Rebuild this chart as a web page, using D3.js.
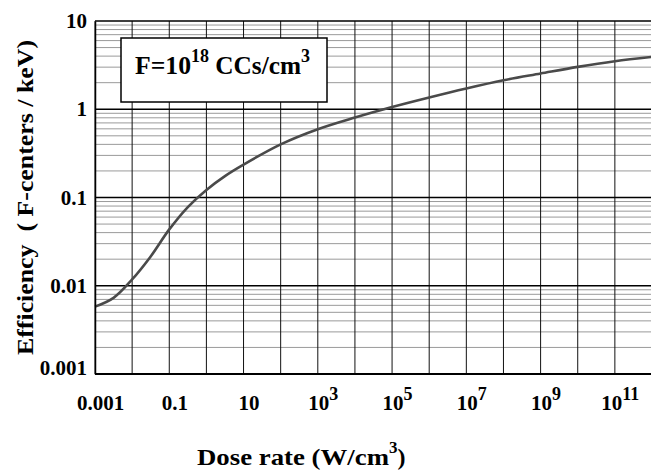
<!DOCTYPE html>
<html>
<head>
<meta charset="utf-8">
<script src="https://cdn.jsdelivr.net/npm/d3@7"></script>
<style>
  body { margin: 0; background: #fff; }
  svg { display: block; }
  text { font-family: "Liberation Serif", "Times New Roman", serif; font-weight: bold; fill: #000; white-space: pre; }
</style>
</head>
<body>
<div id="graph"></div>
<script>
// dose rate (W/cm3) and efficiency (F-centers / keV)
const doseRate = [0.001, 0.00316, 0.01, 0.0316, 0.1, 0.316, 1, 3.16, 10, 100,
  1e3, 1e4, 1e5, 1e6, 1e7, 1e8, 1e9, 1e10, 1e11, 1e12];
const efficiency = [0.0058, 0.0073, 0.0118, 0.0215, 0.0435, 0.078, 0.122, 0.175, 0.236, 0.40,
  0.594, 0.805, 1.06, 1.36, 1.72, 2.13, 2.54, 3.02, 3.5, 3.92];

const xTickValues = [1e-3, 1e-1, 1e1, 1e3, 1e5, 1e7, 1e9, 1e11];
const xTickLabels = ["0.001", "0.1", "10", "10^3", "10^5", "10^7", "10^9", "10^11"];
const yTickValues = [1e-3, 1e-2, 1e-1, 1, 10];
const yTickLabels = ["0.001", "0.01", "0.1", "1", "10"];

const xTitle = "Dose rate (W/cm^3)";
const yTitle = "Efficiency  ( F-centers / keV)";
const noteText = ["F=10", "18", " CCs/cm", "3"];

const width = 651;
const height = 470;
const marginTop = 21;
const marginLeft = 95;
const plotBottom = 374;

const x = d3.scaleLog()
    .domain([1e-3, 1e12])
    .range([marginLeft, 652]);

const y = d3.scaleLog()
    .domain([1e-3, 10])
    .range([plotBottom, marginTop]);

const svg = d3.create("svg")
    .attr("width", width)
    .attr("height", height);

// minor horizontal grid
const minors = [];
yTickValues.slice(0, -1).forEach(d => {
  for (let k = 2; k <= 9; k++) minors.push(d * k);
});
svg.append("g")
  .selectAll("line")
  .data(minors)
  .join("line")
    .attr("x1", marginLeft)
    .attr("x2", width)
    .attr("y1", d => y(d))
    .attr("y2", d => y(d))
    .attr("stroke", "#9a9a9a")
    .attr("stroke-width", 1);

// decade grid lines
const xDecades = d3.range(-3, 13).map(e => Math.pow(10, e));
svg.append("g")
  .selectAll("line")
  .data(xDecades)
  .join("line")
    .attr("x1", d => x(d))
    .attr("x2", d => x(d))
    .attr("y1", marginTop)
    .attr("y2", plotBottom)
    .attr("stroke", "#111")
    .attr("stroke-width", 1);

svg.append("g")
  .selectAll("line")
  .data(yTickValues)
  .join("line")
    .attr("x1", marginLeft)
    .attr("x2", width)
    .attr("y1", d => y(d))
    .attr("y2", d => y(d))
    .attr("stroke", "#000")
    .attr("stroke-width", 1.3);

// bottom border
svg.append("line")
    .attr("x1", marginLeft).attr("x2", width)
    .attr("y1", plotBottom).attr("y2", plotBottom)
    .attr("stroke", "#000").attr("stroke-width", 2);

// curve
const line = d3.line()
    .x(d => x(d[0]))
    .y(d => y(d[1]))
    .curve(d3.curveCatmullRom.alpha(0.5));

svg.append("path")
    .datum(doseRate.map((d, i) => [d, efficiency[i]]))
    .attr("fill", "none")
    .attr("stroke", "#4a4a4a")
    .attr("stroke-width", 2.6)
    .attr("d", line);

// y axis
const yAxis = svg.append("g")
    .attr("transform", `translate(${marginLeft},0)`)
    .call(d3.axisLeft(y).tickValues(yTickValues)
      .tickFormat((d, i) => yTickLabels[i]).tickSize(0).tickPadding(8));
yAxis.select(".domain").attr("stroke", "#000").attr("stroke-width", 1.5);
yAxis.selectAll("text")
    .attr("font-size", 21)
    .attr("dy", (d, i) => i === 0 ? "0.02em" : "0.32em");
yAxis.attr("font-family", null).attr("font-size", null);

// x axis
const xAxis = svg.append("g")
    .attr("transform", `translate(0,${plotBottom})`)
    .call(d3.axisBottom(x).tickValues(xTickValues)
      .tickFormat(() => "").tickSize(0).tickPadding(21));
xAxis.select(".domain").remove();
xAxis.attr("font-family", null).attr("font-size", null);
xAxis.selectAll("text")
    .attr("font-size", 21)
    .attr("dx", 5)
    .each(function(d, i) {
      const parts = xTickLabels[i].split("^");
      const t = d3.select(this);
      t.append("tspan").text(parts[0]);
      if (parts[1]) {
        t.append("tspan").attr("font-size", 18).attr("dy", -10).text(parts[1]);
      }
    });

// axis titles
const xt = xTitle.split("^");
const xTitleText = svg.append("text")
    .attr("x", 197)
    .attr("y", 465)
    .attr("font-size", 24);
xTitleText.append("tspan").attr("textLength", 192).attr("lengthAdjust", "spacingAndGlyphs").text(xt[0]);
xTitleText.append("tspan").attr("font-size", 17).attr("dy", -12).text(xt[1].slice(0, 1));
xTitleText.append("tspan").attr("dy", 12).text(xt[1].slice(1));

svg.append("text")
    .attr("transform", "translate(33,355) rotate(-90)")
    .attr("font-size", 24)
    .attr("textLength", 315)
    .attr("lengthAdjust", "spacingAndGlyphs")
    .text(yTitle);

// note box
svg.append("rect")
    .attr("x", 121)
    .attr("y", 38)
    .attr("width", 206)
    .attr("height", 64)
    .attr("fill", "#fff")
    .attr("stroke", "#000")
    .attr("stroke-width", 1.5);

const note = svg.append("text")
    .attr("x", 135)
    .attr("y", 74)
    .attr("font-size", 25);
note.append("tspan").attr("textLength", 56).attr("lengthAdjust", "spacingAndGlyphs").text(noteText[0]);
note.append("tspan").attr("font-size", 18).attr("dy", -12).text(noteText[1]);
note.append("tspan").attr("dy", 12).attr("textLength", 92).attr("lengthAdjust", "spacingAndGlyphs").text(noteText[2]);
note.append("tspan").attr("font-size", 18).attr("dy", -12).text(noteText[3]);

document.getElementById("graph").appendChild(svg.node());
</script>
</body>
</html>
